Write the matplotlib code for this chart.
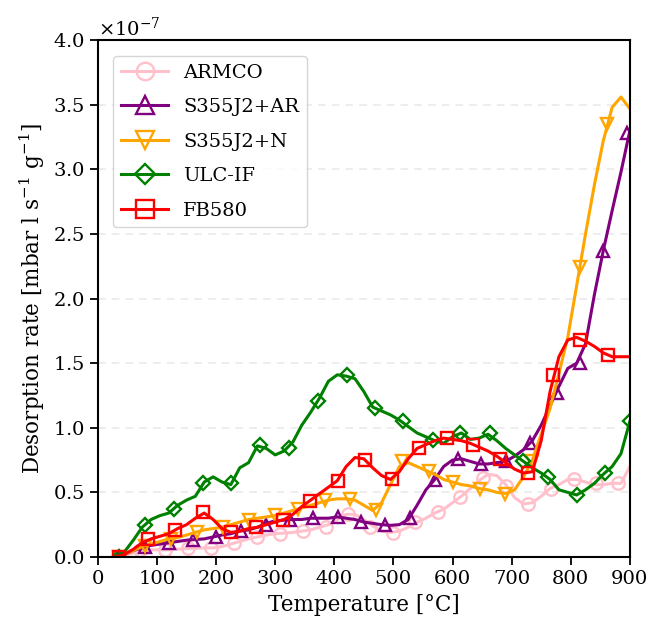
import matplotlib
matplotlib.use("Agg")
import matplotlib.pyplot as plt
from matplotlib.ticker import ScalarFormatter

plt.rcParams['font.family'] = ['DejaVu Serif']
plt.rcParams['mathtext.fontset'] = 'dejavuserif'

# temperature grid of the curves [°C]
temp = [30, 45, 60, 75, 90, 105, 120, 135, 150, 165, 180, 195, 210, 225, 240,
        255, 270, 285, 300, 315, 330, 345, 360, 375, 390, 405, 420, 435, 450,
        465, 480, 495, 510, 525, 540, 555, 570, 585, 600, 615, 630, 645, 660,
        675, 690, 705, 720, 735, 750, 765, 780, 795, 810, 825, 840, 855, 870,
        885, 900]

# desorption rate, units of 1e-7 mbar l s^-1 g^-1
armco = [0.0, 0.01, 0.03, 0.05, 0.055, 0.055, 0.055, 0.06, 0.065, 0.067, 0.07,
         0.07, 0.08, 0.10, 0.12, 0.14, 0.155, 0.17, 0.18, 0.185, 0.19, 0.20,
         0.21, 0.23, 0.25, 0.29, 0.33, 0.33, 0.29, 0.24, 0.20, 0.19, 0.20, 0.23,
         0.27, 0.30, 0.34, 0.37, 0.42, 0.47, 0.53, 0.59, 0.64, 0.63, 0.56, 0.46,
         0.41, 0.42, 0.47, 0.53, 0.56, 0.60, 0.60, 0.58, 0.56, 0.56, 0.57, 0.57,
         0.70]
s355_ar = [0.0, 0.02, 0.05, 0.07, 0.09, 0.10, 0.11, 0.12, 0.13, 0.135, 0.14,
           0.155, 0.17, 0.18, 0.20, 0.21, 0.23, 0.26, 0.28, 0.285, 0.29, 0.29,
           0.30, 0.30, 0.30, 0.31, 0.30, 0.29, 0.27, 0.26, 0.25, 0.245, 0.25,
           0.29, 0.40, 0.52, 0.60, 0.70, 0.75, 0.76, 0.74, 0.72, 0.72, 0.73,
           0.74, 0.78, 0.83, 0.90, 1.02, 1.17, 1.32, 1.46, 1.50, 1.65, 2.03,
           2.37, 2.68, 2.98, 3.30]
s355_n = [0.0, 0.02, 0.05, 0.08, 0.10, 0.12, 0.14, 0.15, 0.17, 0.19, 0.21,
          0.22, 0.23, 0.25, 0.27, 0.29, 0.30, 0.31, 0.32, 0.34, 0.36, 0.38,
          0.40, 0.42, 0.44, 0.45, 0.45, 0.44, 0.40, 0.36, 0.42, 0.56, 0.70,
          0.73, 0.70, 0.67, 0.64, 0.60, 0.58, 0.56, 0.55, 0.53, 0.52, 0.50,
          0.49, 0.52, 0.62, 0.75, 0.95, 1.15, 1.42, 1.70, 2.10, 2.50, 2.88,
          3.22, 3.48, 3.56, 3.47]
ulc_if = [0.0, 0.04, 0.13, 0.23, 0.29, 0.32, 0.34, 0.40, 0.44, 0.47, 0.58,
          0.62, 0.58, 0.56, 0.69, 0.73, 0.86, 0.84, 0.79, 0.82, 0.89, 1.02,
          1.12, 1.23, 1.36, 1.41, 1.40, 1.38, 1.28, 1.16, 1.13, 1.10, 1.06,
          1.01, 0.96, 0.93, 0.90, 0.88, 0.93, 0.96, 0.91, 0.92, 0.95, 0.90,
          0.84, 0.79, 0.74, 0.69, 0.65, 0.60, 0.52, 0.50, 0.48, 0.52, 0.57,
          0.64, 0.70, 0.80, 1.05]
fb580 = [0.0, 0.02, 0.06, 0.11, 0.14, 0.16, 0.18, 0.22, 0.25, 0.30, 0.34,
         0.29, 0.22, 0.19, 0.20, 0.22, 0.23, 0.25, 0.27, 0.29, 0.33, 0.39,
         0.44, 0.49, 0.54, 0.59, 0.70, 0.77, 0.76, 0.69, 0.63, 0.60, 0.66,
         0.76, 0.84, 0.87, 0.90, 0.92, 0.91, 0.90, 0.88, 0.85, 0.82, 0.78,
         0.73, 0.68, 0.65, 0.66, 0.90, 1.28, 1.55, 1.68, 1.70, 1.67, 1.63,
         1.58, 1.55, 1.55, 1.55]

# marker positions
armco_mt = [35, 72, 113, 152, 191, 230, 269, 308, 347, 386, 423, 460, 499,
            537, 575, 613, 652, 690, 728, 766, 805, 843, 880]
armco_mv = [0.0, 0.054, 0.054, 0.067, 0.067, 0.106, 0.157, 0.18, 0.20, 0.235,
            0.33, 0.235, 0.185, 0.27, 0.35, 0.466, 0.61, 0.55, 0.41, 0.53,
            0.60, 0.57, 0.57]
ar_mt = [35, 80, 121, 161, 200, 242, 284, 325, 364, 407, 446, 486, 528, 570,
         610, 649, 690, 731, 776, 815, 855, 895]
ar_mv = [0.0, 0.075, 0.106, 0.13, 0.157, 0.20, 0.25, 0.286, 0.30, 0.31, 0.27,
         0.25, 0.30, 0.595, 0.76, 0.72, 0.74, 0.88, 1.27, 1.50, 2.37, 3.28]
n_mt = [35, 79, 123, 167, 211, 255, 299, 339, 384, 426, 471, 514, 560, 601,
        646, 689, 734, 816, 861]
n_mv = [0.0, 0.085, 0.14, 0.19, 0.23, 0.29, 0.325, 0.37, 0.44, 0.45, 0.36,
        0.74, 0.665, 0.58, 0.53, 0.49, 0.74, 2.245, 3.35]
ulc_mt = [35, 79, 128, 178, 226, 275, 323, 373, 421, 469, 517, 567, 613, 663,
          720, 762, 810, 858, 900]
ulc_mv = [0.0, 0.25, 0.37, 0.575, 0.57, 0.866, 0.84, 1.21, 1.41, 1.15, 1.05,
          0.905, 0.96, 0.96, 0.74, 0.62, 0.48, 0.647, 1.05]
fb_mt = [35, 85, 130, 178, 226, 268, 314, 359, 407, 452, 497, 543, 590, 635,
         680, 728, 770, 816, 863]
fb_mv = [0.0, 0.137, 0.21, 0.35, 0.19, 0.23, 0.286, 0.433, 0.59, 0.75, 0.60,
         0.84, 0.92, 0.866, 0.76, 0.65, 1.41, 1.68, 1.56]

series = [
    ('ARMCO', 'pink', 'o', armco, armco_mt, armco_mv),
    ('S355J2+AR', 'purple', '^', s355_ar, ar_mt, ar_mv),
    ('S355J2+N', 'orange', 'v', s355_n, n_mt, n_mv),
    ('ULC-IF', 'green', 'D', ulc_if, ulc_mt, ulc_mv),
    ('FB580', 'red', 's', fb580, fb_mt, fb_mv),
]

fig = plt.figure(figsize=(6.48, 6.38), dpi=100)
ax = fig.add_axes([0.151, 0.127, 0.821, 0.81])

scale = 1e-7
handles = []
labels = []
for name, col, mk, vals, mt, mv in series:
    ln, = ax.plot(temp, [v * scale for v in vals], color=col, lw=2.2)
    ms = 7.5 if mk == 'D' else 9
    pt, = ax.plot(mt, [v * scale for v in mv], ls='none', marker=mk,
                  ms=ms, mfc='none', mec=col, mew=1.7)
    handles.append((ln, pt))
    labels.append(name)

ax.set_xlim(0, 900)
ax.set_ylim(0, 4.0e-7)
ax.set_xticks(range(0, 901, 100))
ax.set_yticks([i * 0.5e-7 for i in range(9)])
fmt = ScalarFormatter(useMathText=True)
fmt.set_scientific(True)
fmt.set_powerlimits((0, 0))
ax.yaxis.set_major_formatter(fmt)
ax.yaxis.grid(True, ls=(0, (5, 4)), color='#e8e8e8', lw=1.1)
ax.set_axisbelow(True)

for sp in ax.spines.values():
    sp.set_linewidth(1.5)
ax.tick_params(axis='both', labelsize=14, length=6, width=1.3, direction='out')
ax.yaxis.get_offset_text().set_fontsize(14)

ax.set_xlabel('Temperature [°C]', fontsize=15.5)
ax.set_ylabel('Desorption rate [mbar l s$^{-1}$ g$^{-1}$]', fontsize=15.5)

ax.legend(handles, labels, loc='upper left', fontsize=14, markerscale=1.4,
          handlelength=2.4, labelspacing=0.85, borderaxespad=0.8)

fig.savefig('out.png', dpi=100)
